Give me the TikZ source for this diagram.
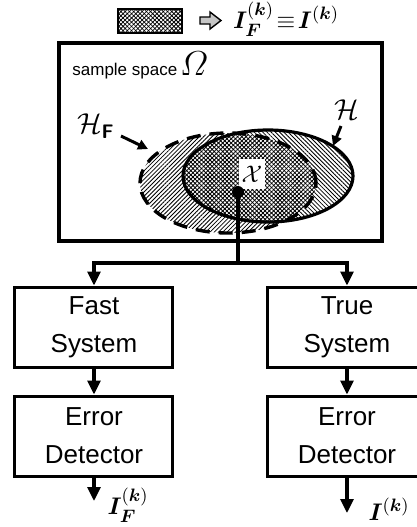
\documentclass[tikz,border=0pt]{standalone}
\usepackage{fontspec}
\setmainfont{Liberation Sans}
\usepackage{amsmath, amssymb, bm}
\usetikzlibrary{arrows.meta, patterns.meta, positioning}

\tikzset{
  block/.style={draw, line width=1.5pt, minimum width=79pt, minimum height=40pt,
    inner sep=0pt, align=center, font=\fontsize{13}{19}\selectfont},
  wire/.style={line width=1.6pt},
  flow/.style={wire, -{Triangle[width=6.5pt,length=7pt]}},
  pointer/.style={line width=1.5pt, -{Triangle[width=5pt,length=5pt]}},
  lineshigh/.style={pattern={Lines[angle=45,distance=1.5pt,line width=0.42pt]}},
  lineslow/.style={pattern={Lines[angle=-45,distance=1.5pt,line width=0.42pt]}},
}

\begin{document}
\begin{tikzpicture}[x=0.5pt, y=-0.5pt]
  % page frame, pixel grid with y going down
  \useasboundingbox (0,0) rectangle (417,527);
  \clip (0,0) rectangle (417,527);

  % key above the sample space
  \node[draw, line width=0.6pt, minimum width=32pt, minimum height=12pt, inner sep=0pt,
        lineshigh] (key) at (150,21) {};
  \path[lineslow] (key.south west) rectangle (key.north east);
  \draw[line width=0.7pt, fill=gray!45, line join=miter]
        (200,17) -- (210,17) -- (210,12) -- (221,20.5) -- (210,29) -- (210,24) -- (200,24) -- cycle;
  \node[font=\fontsize{12.5}{15}\selectfont] (eqn) at (286,19)
        {$\bm{I}_{\bm{F}}^{(\bm{k})}\!\equiv\!\bm{I}^{(\bm{k})}$};

  % sample space box
  \node[draw, line width=2pt, minimum width=161.5pt, minimum height=99pt] (space) at (220.5,142) {};
  \node[anchor=base west, inner sep=0pt, font=\fontsize{8.5}{10}\selectfont] (omega) at (72,75)
        {sample space\,{\fontsize{16}{16}\selectfont$\varOmega$}};

  % the two regions: H_F (dashed) and H (solid)
  \def\hfc{(228,183) ellipse [x radius=44pt, y radius=25pt]}
  \def\hc{(268,176) ellipse [x radius=42.5pt, y radius=23pt]}
  \path[lineshigh] \hfc;
  \fill[white] \hc;
  \path[lineslow] \hc;
  \begin{scope}
    \clip \hfc;
    \fill[white] \hc;
    \path[lineshigh] \hc;
    \path[lineslow] \hc;
  \end{scope}
  \draw[line width=1.7pt, dash pattern=on 7pt off 4.5pt] \hfc;
  \draw[line width=1.6pt] \hc;

  % region labels
  \node[font=\fontsize{14}{14}\selectfont] (lblH) at (347,110) {$\mathcal{H}$};
  \coordinate (tipH) at (333,146);
  \draw[pointer] (341,126) -- (tipH);
  \node[font=\fontsize{14}{14}\selectfont] (lblHF) at (96,126) {$\mathcal{H}_{\textsf{\textbf{F}}}$};
  \coordinate (tipHF) at (148,149);
  \draw[pointer] (121,136) -- (tipHF);

  % sample point
  \node[fill=white, inner sep=1.5pt, minimum width=7pt, minimum height=15pt] (xlbl) at (252,174)
        {\fontsize{13}{13}\selectfont$\mathcal{X}$};
  \node[circle, fill, inner sep=0pt, minimum size=6pt] (pt) at (238,192) {};

  % the two chains
  \node[block] (fast) at (94,327) {Fast\\System};
  \node[block] (true) at (347,327) {True\\System};
  \node[block] (errF) at (94,436) {Error\\Detector};
  \node[block] (errT) at (347,436) {Error\\Detector};

  \coordinate (split) at (238,263);
  \draw[wire] (pt.center) -- (split);
  \draw[flow] (split) -| (fast.north);
  \draw[flow] (split) -| (true.north);
  \draw[flow] (fast) -- (errF);
  \draw[flow] (true) -- (errT);

  % outputs
  \coordinate (endF) at (94,501);
  \coordinate (endT) at (347,513);
  \draw[flow] (errF) -- (endF);
  \draw[flow] (errT) -- (endT);
  \node[font=\fontsize{13}{15}\selectfont] (outF) at (128,505) {$\bm{I}_{\bm{F}}^{(\bm{k})}$};
  \node[font=\fontsize{13}{15}\selectfont] (outT) at (389,509) {$\bm{I}^{(\bm{k})}$};
\end{tikzpicture}
\end{document}
